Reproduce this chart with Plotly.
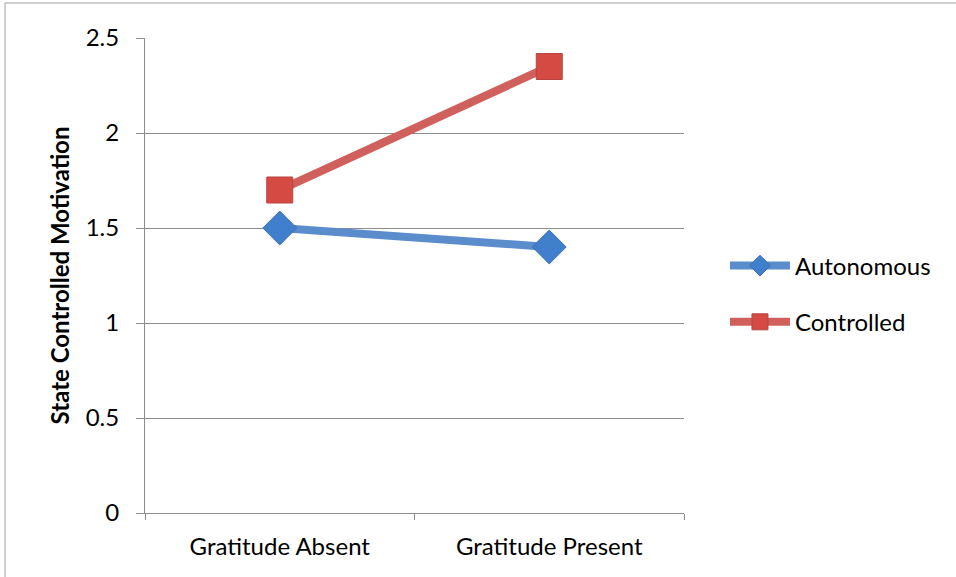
import plotly.graph_objects as go

categories = ["Gratitude Absent", "Gratitude Present"]
autonomous = [1.5, 1.4]
controlled = [1.7, 2.35]
y_ticks = [0, 0.5, 1, 1.5, 2, 2.5]
y_tick_labels = ["0", "0.5", "1", "1.5", "2", "2.5"]

FONT = "Lato"

fig = go.Figure()
fig.add_trace(go.Scatter(
    x=categories, y=autonomous, name="Autonomous", mode="lines+markers",
    line=dict(color="#5B8CCB", width=8),
    marker=dict(symbol="diamond", size=26, color="#3F7FCB",
                line=dict(color="#3A6EAE", width=1)),
    legendgroup="a",
))
fig.add_trace(go.Scatter(
    x=categories, y=controlled, name="Controlled", mode="lines+markers",
    line=dict(color="#D0605B", width=8),
    marker=dict(symbol="square", size=26, color="#D54A43",
                line=dict(color="#B94540", width=1)),
    legendgroup="c",
))

fig.update_layout(
    width=956, height=577,
    margin=dict(l=145, r=272, t=38, b=64),
    paper_bgcolor="white", plot_bgcolor="white",
    font=dict(family=FONT, size=24, color="black"),
    showlegend=True,
    legend=dict(x=1.076, y=0.461, xanchor="left", yanchor="middle",
                font=dict(family=FONT, size=24, color="black"),
                tracegroupgap=22, itemwidth=60, bgcolor="rgba(0,0,0,0)"),
    xaxis=dict(
        type="category", range=[-0.5, 1.5], tickson="boundaries",
        ticks="outside", ticklen=6, tickcolor="#8C8C8C",
        showline=True, linecolor="#8C8C8C", linewidth=1,
        showgrid=False, zeroline=False,
        tickfont=dict(family=FONT, size=24), ticklabelstandoff=12,
    ),
    yaxis=dict(
        range=[0, 2.5], tickvals=y_ticks, ticktext=y_tick_labels,
        ticks="outside", ticklen=8, tickcolor="#8C8C8C",
        showline=True, linecolor="#8C8C8C", linewidth=1,
        showgrid=True, gridcolor="#8C8C8C", gridwidth=1, zeroline=False,
        tickfont=dict(family=FONT, size=24), ticklabelstandoff=12,
        title=dict(text="<b>State Controlled Motivation</b>",
                   font=dict(family=FONT, size=24), standoff=9),
    ),
)

fig.add_shape(type="rect", xref="paper", yref="paper",
              x0=-0.2597, y0=-0.2, x1=1.6, y1=1.0737,
              line=dict(color="#A0A0A0", width=1), fillcolor="rgba(0,0,0,0)",
              layer="below")

fig.write_html("out.html")
